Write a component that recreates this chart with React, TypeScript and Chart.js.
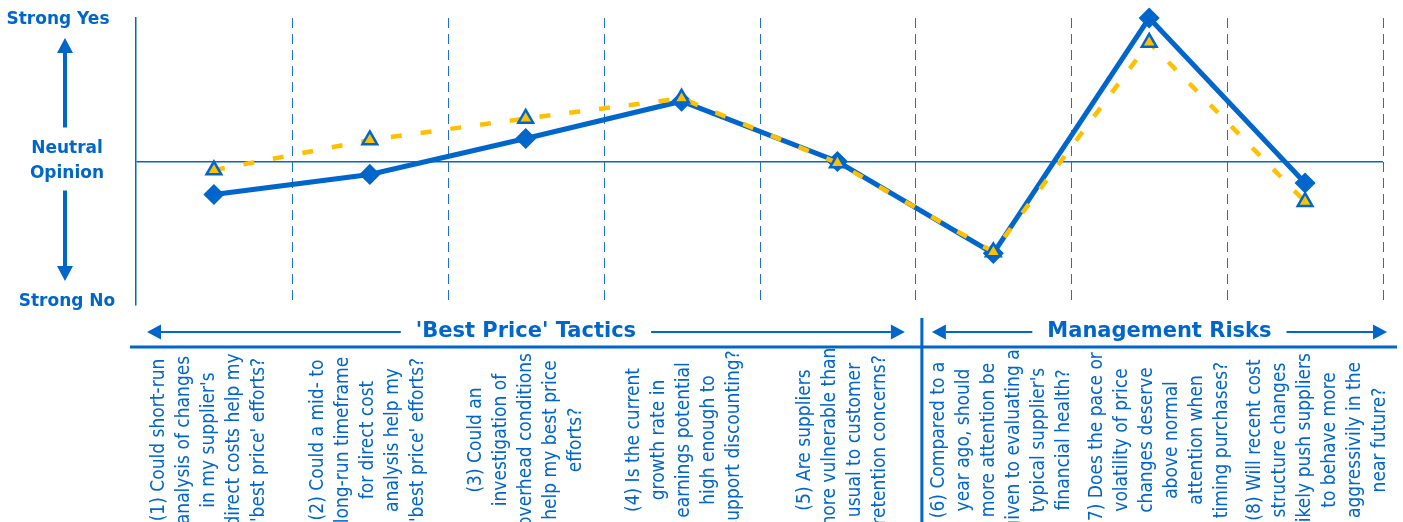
import React, { useEffect, useRef } from 'react';
import { Chart, registerables } from 'chart.js';

Chart.register(...registerables);

// ---------------- DATA ----------------
const categories: string[] = ['(1)', '(2)', '(3)', '(4)', '(5)', '(6)', '(7)', '(8)'];

const questionLines: string[][] = [
  ['(1) Could short-run', 'analysis of changes', "in my supplier's", 'direct costs help my', "'best price' efforts?"],
  ['(2) Could a mid- to', 'long-run timeframe', 'for direct cost', 'analysis help my', "'best price' efforts?"],
  ['(3) Could an', 'investigation of', 'overhead conditions', 'help my best price', 'efforts?'],
  ['(4) Is the current', 'growth rate in', 'earnings potential', 'high enough to', 'support discounting?'],
  ['(5) Are suppliers', 'more vulnerable than', 'usual to customer', 'retention concerns?'],
  ['(6) Compared to a', 'year ago, should', 'more attention be', 'given to evaluating a', "typical supplier's", 'financial health?'],
  ['(7) Does the pace or', 'volatility of price', 'changes deserve', 'above normal', 'attention when', 'timing purchases?'],
  ['(8) Will recent cost', 'structure changes', 'likely push suppliers', 'to behave more', 'aggressivily in the', 'near future?'],
];

// solid blue series (diamonds)
const seriesBlue: number[] = [-0.23, -0.09, 0.16, 0.42, 0.0, -0.64, 1.0, -0.15];
// dashed gold series (triangles)
const seriesGold: number[] = [-0.06, 0.15, 0.3, 0.44, -0.01, -0.63, 0.83, -0.28];

const axisTopLabel = 'Strong Yes';
const axisMidLabel: string[] = ['Neutral', 'Opinion'];
const axisBottomLabel = 'Strong No';

const sectionTitles: string[] = ["'Best Price' Tactics", 'Management Risks'];
const sectionSizes: number[] = [5, 3];

// ---------------- STYLE ----------------
const BLUE = '#0066CC';
const GOLD = '#FFC000';
const GRID_BLUE = '#1F6FD0';
const FONT = '"DejaVu Sans Condensed", "DejaVu Sans", Tahoma, sans-serif';
const BOLD_FONT = '"DejaVu Sans", Tahoma, sans-serif';

function arrow(ctx: CanvasRenderingContext2D, x1: number, y1: number, x2: number, y2: number,
  shaft: number, headLen: number, headHalf: number) {
  const ang = Math.atan2(y2 - y1, x2 - x1);
  const bx = x2 - Math.cos(ang) * headLen;
  const by = y2 - Math.sin(ang) * headLen;
  ctx.beginPath();
  ctx.lineWidth = shaft;
  ctx.lineCap = 'butt';
  ctx.moveTo(x1, y1);
  ctx.lineTo(bx, by);
  ctx.stroke();
  const px = -Math.sin(ang), py = Math.cos(ang);
  ctx.beginPath();
  ctx.moveTo(x2, y2);
  ctx.lineTo(bx + px * headHalf, by + py * headHalf);
  ctx.lineTo(bx - px * headHalf, by - py * headHalf);
  ctx.closePath();
  ctx.fill();
}

// dashed separators between the categories, placed with the x scale
const separatorPlugin = {
  id: 'separators',
  beforeDatasetsDraw(chart: any) {
    const ctx: CanvasRenderingContext2D = chart.ctx;
    const x = chart.scales.x;
    const area = chart.chartArea;
    const n = categories.length;
    const step = x.getPixelForValue(1) - x.getPixelForValue(0);
    ctx.save();
    ctx.strokeStyle = GRID_BLUE;
    ctx.lineWidth = 1;
    ctx.setLineDash([10, 6]);
    for (let i = 1; i <= n; i++) {
      const px = Math.round(x.getPixelForValue(i - 1) + step / 2) + 0.5;
      ctx.beginPath();
      ctx.moveTo(px, area.top);
      ctx.lineTo(px, area.bottom - 3);
      ctx.stroke();
    }
    ctx.restore();
  },
};

const overlayPlugin = {
  id: 'overlay',
  afterDraw(chart: any) {
    const ctx: CanvasRenderingContext2D = chart.ctx;
    const yScale = chart.scales.y;
    ctx.save();
    ctx.fillStyle = BLUE;
    ctx.strokeStyle = BLUE;

    // ---- left opinion axis ----
    const yTop = yScale.getPixelForValue(1);
    const yMid = yScale.getPixelForValue(0);
    const yBot = yScale.getPixelForValue(-1);
    ctx.font = `bold 17px ${BOLD_FONT}`;
    ctx.textAlign = 'center';
    ctx.textBaseline = 'middle';
    ctx.fillText(axisTopLabel, 58, yTop + 2);
    ctx.fillText(axisMidLabel[0], 67, yMid - 13);
    ctx.fillText(axisMidLabel[1], 67, yMid + 12);
    ctx.fillText(axisBottomLabel, 67, yBot - 3);
    arrow(ctx, 65, yMid - 34, 65, yTop + 20, 4, 15, 8);
    arrow(ctx, 65, yMid + 29, 65, yBot - 24, 4, 15, 8);

    // ---- lower table ----
    const tableLeft = 130;
    const tableRight = 1397;
    const colW = (tableRight - tableLeft) / categories.length;
    const headerY = 332;
    const ruleY = 347;
    const bottom = chart.height;

    ctx.beginPath();
    ctx.lineWidth = 3;
    ctx.moveTo(tableLeft, ruleY);
    ctx.lineTo(tableRight, ruleY);
    ctx.stroke();

    let start = 0;
    const insets = [17, 10];
    sectionTitles.forEach((title, s) => {
      const xs = tableLeft + start * colW;
      const xe = tableLeft + (start + sectionSizes[s]) * colW;
      const cx = (xs + xe) / 2;
      ctx.font = `bold 21px ${BOLD_FONT}`;
      ctx.textAlign = 'center';
      ctx.textBaseline = 'middle';
      ctx.fillText(title, cx, headerY);
      const tw = ctx.measureText(title).width;
      arrow(ctx, cx - tw / 2 - 15, headerY, xs + insets[s], headerY, 2, 14, 7.5);
      arrow(ctx, cx + tw / 2 + 15, headerY, xe - insets[s], headerY, 2, 14, 7.5);
      if (s < sectionTitles.length - 1) {
        ctx.beginPath();
        ctx.lineWidth = 3;
        ctx.moveTo(xe, 318);
        ctx.lineTo(xe, bottom);
        ctx.stroke();
      }
      start += sectionSizes[s];
    });

    // rotated question labels
    ctx.font = `19px ${FONT}`;
    const lineH = 25;
    const cy = 440;
    questionLines.forEach((lines, i) => {
      const cx = tableLeft + (i + 0.5) * colW;
      const n = lines.length;
      lines.forEach((line, j) => {
        const x = cx + (j - (n - 1) / 2) * lineH;
        ctx.save();
        ctx.translate(x, cy);
        ctx.rotate(-Math.PI / 2);
        ctx.textAlign = 'center';
        ctx.textBaseline = 'middle';
        ctx.fillText(line, 0, 0);
        ctx.restore();
      });
    });
    ctx.restore();
  },
};

export default function App() {
  const canvasRef = useRef<HTMLCanvasElement | null>(null);

  useEffect(() => {
    const canvas = canvasRef.current;
    if (!canvas) return;
    const chart = new Chart(canvas, {
      type: 'line',
      data: {
        labels: categories,
        datasets: [
          {
            label: 'Gold',
            data: seriesGold,
            borderColor: GOLD,
            borderWidth: 4.5,
            borderDash: [11, 19],
            pointStyle: 'triangle',
            pointRadius: 8.5,
            pointHoverRadius: 8.5,
            pointBackgroundColor: GOLD,
            pointBorderColor: BLUE,
            pointBorderWidth: 2.5,
            tension: 0,
            clip: false,
          },
          {
            label: 'Blue',
            data: seriesBlue,
            borderColor: BLUE,
            borderWidth: 5,
            pointStyle: 'rectRot',
            pointRadius: 9.5,
            pointHoverRadius: 9.5,
            pointBackgroundColor: BLUE,
            pointBorderColor: BLUE,
            pointBorderWidth: 1.5,
            tension: 0,
            clip: false,
          },
        ],
      },
      options: {
        animation: false,
        responsive: false,
        maintainAspectRatio: false,
        events: [],
        layout: { padding: { left: 136, right: 20, top: 18, bottom: 217 } },
        plugins: {
          legend: { display: false },
          tooltip: { enabled: false },
          title: { display: false },
        },
        scales: {
          x: {
            type: 'category',
            offset: true,
            grid: { display: false, drawTicks: false },
            border: { display: false },
            ticks: { display: false },
          },
          y: {
            min: -1,
            max: 1,
            ticks: { display: false, stepSize: 1 },
            grid: {
              drawTicks: false,
              lineWidth: 1.5,
              color: (c: any) => (c.tick && c.tick.value === 0 ? BLUE : 'rgba(0,0,0,0)'),
            },
            border: { display: true, color: BLUE, width: 1.5 },
          },
        },
      },
      plugins: [separatorPlugin, overlayPlugin],
    } as any);
    return () => chart.destroy();
  }, []);

  return (
    <div style={{ position: 'fixed', left: 0, top: 0, width: 1403, height: 522, background: '#fff' }}>
      <canvas ref={canvasRef} width={1403} height={522} style={{ width: 1403, height: 522 }} />
    </div>
  );
}
